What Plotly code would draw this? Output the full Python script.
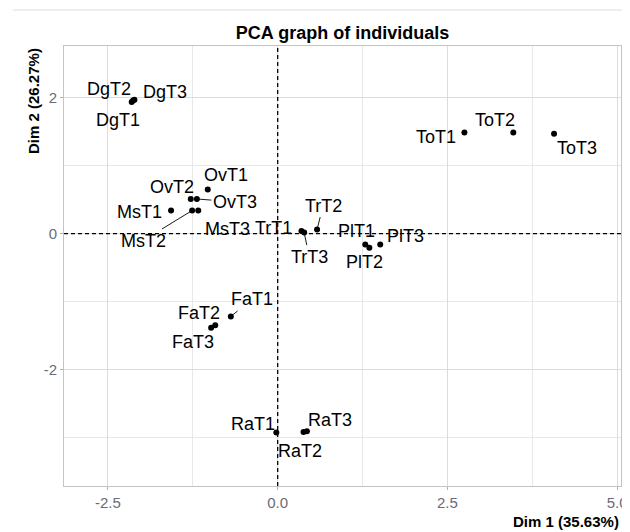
import plotly.graph_objects as go

# ---- data ----
names = ["DgT1", "DgT2", "DgT3", "OvT1", "OvT2", "OvT3", "MsT1", "MsT2", "MsT3",
         "TrT1", "TrT2", "TrT3", "PlT1", "PlT2", "PlT3", "ToT1", "ToT2", "ToT3",
         "FaT1", "FaT2", "FaT3", "RaT1", "RaT2", "RaT3"]
dim1 = [-2.15, -2.13, -2.11, -1.03, -1.28, -1.19, -1.57, -1.26, -1.17,
        0.35, 0.58, 0.39, 1.29, 1.35, 1.51, 2.75, 3.47, 4.07,
        -0.69, -0.92, -0.98, -0.02, 0.38, 0.43]
dim2 = [1.94, 1.96, 1.97, 0.65, 0.51, 0.51, 0.34, 0.34, 0.34,
        0.04, 0.06, 0.015, -0.16, -0.21, -0.16, 1.49, 1.49, 1.47,
        -1.22, -1.35, -1.385, -2.93, -2.92, -2.91]
x_ticks = [-2.5, 0.0, 2.5, 5.0]
x_tick_labels = ["-2.5", "0.0", "2.5", "5.0"]
y_ticks = [-2, 0, 2]
y_tick_labels = ["-2", "0", "2"]
title_text = "PCA graph of individuals"
x_title = "Dim 1 (35.63%)"
y_title = "Dim 2 (26.27%)"

# ---- label placement (pixel offsets, styling only) ----
label_offsets = {
    "DgT1": (-14, 18), "DgT2": (-24, -12), "DgT3": (31, -8),
    "OvT1": (18, -14), "OvT2": (-19, -12), "OvT3": (38, 3),
    "MsT1": (-32, 1), "MsT2": (-49, 30), "MsT3": (29, 18),
    "TrT1": (-28, -3), "TrT2": (6, -24), "TrT3": (5, 24),
    "PlT1": (-9, -13), "PlT2": (-5, 14), "PlT3": (25, -8),
    "ToT1": (-28, 5), "ToT2": (-18, -12), "ToT3": (23, 14),
    "FaT1": (21, -17), "FaT2": (-16, -12), "FaT3": (-18, 14),
    "RaT1": (-23, -9), "RaT2": (-3, 19), "RaT3": (23, -11),
}
with_segment = {"OvT3", "MsT2", "TrT2", "TrT3", "FaT1"}

FONT = "Liberation Sans, Arial, sans-serif"

# page body has an 8px margin -> figure is drawn 8px right/down
W, H = 622, 524
ML, MR, MT, MB = 56, 9, 38, 46
PW, PH = W - ML - MR, H - MT - MB

fig = go.Figure()
fig.add_trace(go.Scatter(
    x=dim1, y=dim2, mode="markers",
    marker=dict(color="black", size=6),
    hoverinfo="text", text=names, showlegend=False,
))

annotations = []
for n, xv, yv in zip(names, dim1, dim2):
    ax, ay = label_offsets[n]
    seg = n in with_segment
    annotations.append(dict(
        x=xv, y=yv, xref="x", yref="y", text=n,
        showarrow=True, arrowhead=0, ax=ax, ay=ay,
        arrowwidth=0.9, standoff=2,
        arrowcolor="black" if seg else "rgba(0,0,0,0)",
        font=dict(family=FONT, size=18, color="black"),
    ))

# axis titles
annotations.append(dict(
    xref="paper", yref="paper", x=1, y=0, xanchor="right", yanchor="middle",
    yshift=-35, text=f"<b>{x_title}</b>", showarrow=False,
    font=dict(family=FONT, size=15, color="black"),
))
annotations.append(dict(
    xref="paper", yref="paper", x=0, y=1, xanchor="center", yanchor="middle",
    xshift=-31, yshift=-55, textangle=-90, text=f"<b>{y_title}</b>", showarrow=False,
    font=dict(family=FONT, size=15, color="black"),
))

shapes = [
    dict(type="line", xref="x", yref="paper", x0=0, x1=0, y0=0, y1=1,
         line=dict(color="black", width=1.3, dash="4px,3px")),
    dict(type="line", xref="paper", yref="y", x0=0, x1=1, y0=0, y1=0,
         line=dict(color="black", width=1.3, dash="4px,3px")),
    # thin rule at the very top of the image
    dict(type="line", xref="paper", yref="paper",
         x0=(5 - ML) / PW, x1=(W - ML) / PW,
         y0=1 + (MT - 2) / PH, y1=1 + (MT - 2) / PH,
         line=dict(color="#dcdcdc", width=1)),
]

fig.update_layout(
    width=W, height=H,
    margin=dict(l=ML, r=MR, t=MT, b=MB, autoexpand=False),
    paper_bgcolor="white", plot_bgcolor="white",
    title=dict(text=f"<b>{title_text}</b>", x=(ML + PW / 2) / W, xanchor="center",
               y=1 - 25 / H, yanchor="middle",
               font=dict(family=FONT, size=18, color="black")),
    annotations=annotations,
    shapes=shapes,
    showlegend=False,
)

fig.update_xaxes(
    range=[-3.147, 5.056], tickvals=x_ticks, ticktext=x_tick_labels,
    showgrid=True, gridcolor="#dcdcdc", gridwidth=1,
    minor=dict(dtick=1.25, tick0=0, showgrid=True, gridcolor="#e8e8e8", gridwidth=1),
    zeroline=False, showline=True, mirror=True, linecolor="#c4c4c4", linewidth=1,
    ticks="outside", ticklen=3, tickcolor="#b0b0b0",
    tickfont=dict(family=FONT, size=15, color="#6b6b78"),
)
fig.update_yaxes(
    range=[-3.717, 2.763], tickvals=y_ticks, ticktext=y_tick_labels,
    showgrid=True, gridcolor="#dcdcdc", gridwidth=1,
    minor=dict(dtick=1, tick0=0, showgrid=True, gridcolor="#e8e8e8", gridwidth=1),
    zeroline=False, showline=True, mirror=True, linecolor="#c4c4c4", linewidth=1,
    ticks="outside", ticklen=3, tickcolor="#b0b0b0",
    tickfont=dict(family=FONT, size=15, color="#6b6b78"),
)

fig.write_html("out.html")
